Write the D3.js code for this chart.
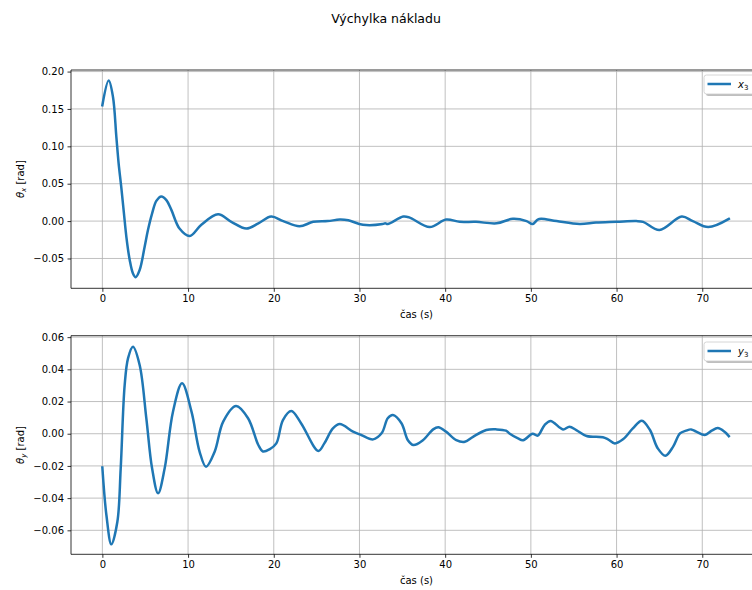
<!DOCTYPE html>
<html><head><meta charset="utf-8">
<script src="https://cdn.jsdelivr.net/npm/d3@7"></script>
<style>body{margin:0;background:#fff}svg{display:block}text{font-family:"DejaVu Sans",sans-serif}</style>
</head><body>
<svg id="c" width="752" height="590"></svg>
<script>
const title = "Výchylka nákladu";
const xLabel = "čas (s)";
const xTicks = [0,10,20,30,40,50,60,70];
const yTicksTop = [-0.05,0,0.05,0.10,0.15,0.20];
const yTicksBottom = [-0.06,-0.04,-0.02,0,0.02,0.04,0.06];

const tTop = [0,0.74,1.24,1.63,1.9,2.2,2.52,2.8,3.19,3.57,3.89,4.35,4.94,5.32,5.8,6.3,6.88,7.47,8.05,9.0,10.19,11.55,13.5,15.05,16.8,18.2,19.7,21.1,23.0,24.6,26.3,27.7,28.7,30.4,32.7,33.0,33.3,35.1,35.8,38.2,40.1,41.7,43.6,46.0,47.9,49.5,50.2,50.8,51.2,53.0,55.7,57.6,60.0,62.3,63.1,65.0,67.6,68.9,70.7,73.1];
const thetaX = [0.155,0.188,0.166,0.113,0.077,0.046,0.010,-0.021,-0.052,-0.070,-0.075,-0.0655,-0.034,-0.012,0.010,0.027,0.033,0.028,0.015,-0.010,-0.020,-0.005,0.009,-0.001,-0.010,-0.003,0.006,0.000,-0.007,-0.001,0.000,0.002,0.001,-0.005,-0.004,-0.003,-0.004,0.006,0.005,-0.008,0.002,-0.001,-0.001,-0.003,0.003,0.000,-0.004,0.002,0.003,0.000,-0.004,-0.002,-0.001,0.000,-0.001,-0.012,0.006,0.000,-0.008,0.003];

const tBottom = [0,0.47,1.05,1.75,2.14,2.6,3.0,3.57,4.35,5.13,5.8,6.5,7.27,8.24,9.3,10.4,11.35,12.1,13.1,14.1,15.6,17.0,18.2,18.74,19.5,20.3,21.07,22.05,23.2,25.2,25.9,26.9,27.7,29.25,30.2,31.6,32.6,33.3,33.9,34.9,35.65,36.3,37.4,38.6,39.2,40.1,41.3,42.3,43.25,44.8,46.0,47.1,47.5,48.5,49.1,50.2,50.8,51.6,52.3,53.75,54.5,55.3,56.5,58.4,59.0,59.8,60.75,61.9,62.95,63.9,64.8,65.7,66.6,67.4,68.1,68.7,69.3,70.3,71.1,71.8,72.6,73.1];
const thetaY = [-0.021,-0.0505,-0.0687,-0.0547,-0.0215,0.030,0.047,0.054,0.0427,0.0096,-0.0215,-0.037,-0.0215,0.0137,0.0313,0.0137,-0.0112,-0.0205,-0.0112,0.0075,0.0172,0.0096,-0.007,-0.011,-0.0097,-0.006,0.0085,0.0141,0.0064,-0.0107,-0.006,0.0033,0.006,0.0013,-0.0008,-0.0035,0.0004,0.0096,0.0116,0.0065,-0.004,-0.007,-0.004,0.0027,0.004,0.0013,-0.004,-0.005,-0.0019,0.0023,0.0027,0.0019,0.0002,-0.0029,-0.004,0.0,-0.0012,0.0054,0.0079,0.0027,0.0044,0.0023,-0.0014,-0.0022,-0.0035,-0.006,-0.0035,0.0033,0.0081,0.0023,-0.009,-0.0137,-0.008,0.0002,0.0019,0.0027,0.0013,-0.0008,0.0019,0.0035,0.0012,-0.0015];

const svg = d3.select("#c");
const color = "#1f77b4";
const L = 71, R = 762;
const x = d3.scaleLinear().domain([-3.66, 76.97]).range([L, R]);

svg.append("text").attr("x", 386).attr("y", 23).attr("text-anchor","middle")
  .attr("font-size", 12.5).text(title);

function panel(top, bottom, ydom, yticks, t, v, fmt, ysub, legSub, legTop){
  const y = d3.scaleLinear().domain(ydom).range([bottom, top]);
  const g = svg.append("g");
  g.selectAll(".gx").data(xTicks).join("line")
    .attr("x1", d=>x(d)).attr("x2", d=>x(d)).attr("y1", top).attr("y2", bottom)
    .attr("stroke","#b0b0b0").attr("stroke-width",0.8);
  g.selectAll(".gy").data(yticks).join("line")
    .attr("x1", L).attr("x2", R).attr("y1", d=>y(d)).attr("y2", d=>y(d))
    .attr("stroke","#b0b0b0").attr("stroke-width",0.8);
  const data = t.map((d,i)=>[d, v[i]]);
  g.append("path").datum(data)
    .attr("d", d3.line().x(d=>x(d[0])).y(d=>y(d[1])).curve(d3.curveCatmullRom.alpha(0.5)))
    .attr("fill","none").attr("stroke",color).attr("stroke-width",2.5)
    .attr("stroke-linejoin","round").attr("stroke-linecap","square");
  const xa = g.append("g").attr("transform",`translate(0,${bottom})`)
    .call(d3.axisBottom(x).tickValues(xTicks).tickSize(3.5).tickPadding(3.5).tickFormat(d3.format("d")));
  const ya = g.append("g").attr("transform",`translate(${L},0)`)
    .call(d3.axisLeft(y).tickValues(yticks).tickSize(3.5).tickPadding(3.5).tickFormat(d3.format(fmt)));
  [xa, ya].forEach(a=>{
    a.select(".domain").remove();
    a.selectAll("line").attr("stroke","#000").attr("stroke-width",0.8);
    a.selectAll("text").attr("font-size",10).attr("font-family","DejaVu Sans").attr("fill","#000");
  });
  g.append("line").attr("x1",L).attr("x2",R).attr("y1",bottom).attr("y2",bottom).attr("stroke","#000").attr("stroke-width",0.8);
  g.append("line").attr("x1",L).attr("x2",R).attr("y1",top).attr("y2",top).attr("stroke","#000").attr("stroke-width",0.8);
  g.append("line").attr("x1",L).attr("x2",L).attr("y1",top).attr("y2",bottom).attr("stroke","#000").attr("stroke-width",0.8);
  svg.append("text").attr("x", (L+R)/2).attr("y", bottom+30).attr("text-anchor","middle")
    .attr("font-size",10).text(xLabel);
  const yl = svg.append("text").attr("transform",`translate(24,${(top+bottom)/2}) rotate(-90)`)
    .attr("text-anchor","middle").attr("font-size",10);
  yl.append("tspan").attr("font-style","italic").text("θ");
  yl.append("tspan").attr("font-style","italic").attr("font-size",7).attr("dy",2).text(ysub);
  yl.append("tspan").attr("dy",-2).text(" [rad]");
  const lx = 704, ly = legTop, lw = 60, lh = 19;
  svg.append("rect").attr("x",lx+2).attr("y",ly+2).attr("width",lw).attr("height",lh).attr("rx",2.5)
    .attr("fill","#7f7f7f").attr("opacity",0.5);
  svg.append("rect").attr("x",lx).attr("y",ly).attr("width",lw).attr("height",lh).attr("rx",2.5)
    .attr("fill","#fff").attr("stroke","#cccccc").attr("stroke-width",0.8);
  svg.append("line").attr("x1",lx+3.5).attr("x2",lx+27).attr("y1",ly+lh/2-0.5).attr("y2",ly+lh/2-0.5)
    .attr("stroke",color).attr("stroke-width",2.5);
  const lt = svg.append("text").attr("x",lx+34).attr("y",ly+lh/2+3).attr("font-size",10);
  lt.append("tspan").attr("font-style","italic").text(legSub[0]);
  lt.append("tspan").attr("font-size",7).attr("dy",2).text(legSub[1]);
}

panel(70, 288.3, [-0.0899, 0.2021], yTicksTop, tTop, thetaX, ".2f", "x", ["x","3"], 75);
panel(335.7, 554.3, [-0.0749, 0.0609], yTicksBottom, tBottom, thetaY, ".2f", "y", ["y","3"], 342);
</script>
</body></html>
